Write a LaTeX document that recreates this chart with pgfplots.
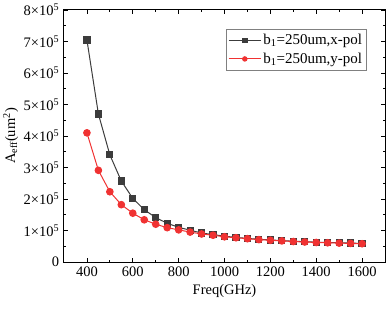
\documentclass[border=0pt]{standalone}
\usepackage{pgfplots}
\pgfplotsset{compat=1.18}
\usepackage{fontspec}
\setmainfont{Liberation Serif}
\definecolor{cblk}{RGB}{60,60,60}
\definecolor{cred}{RGB}{240,50,50}
\begin{document}
\fontsize{14bp}{16bp}\selectfont
\begin{tikzpicture}[x=1bp,y=1bp]
\begin{axis}[
  scale only axis, width=321bp, height=252bp,
  xmin=300, xmax=1700, ymin=0, ymax=800000,
  xtick={400,600,...,1600},
  xticklabels={400,600,800,1000,1200,1400,1600},
  minor x tick num=1,
  ytick={0,100000,...,800000},
  yticklabels={0,1×10\textsuperscript{5},2×10\textsuperscript{5},3×10\textsuperscript{5},4×10\textsuperscript{5},5×10\textsuperscript{5},6×10\textsuperscript{5},7×10\textsuperscript{5},8×10\textsuperscript{5}},
  minor y tick num=1,
  scaled y ticks=false,
  tick align=inside,
  major tick length=4bp, minor tick length=2.5bp,
  tick style={black, line width=0.8bp},
  axis line style={black, line width=1bp},
  tick label style={font=\fontsize{14.5bp}{16bp}\selectfont},
  label style={font=\fontsize{14.5bp}{16bp}\selectfont},
  xlabel={Freq(GHz)},
  ylabel={A\textsubscript{eff}(um\textsuperscript{2})},
  xlabel style={yshift=2bp},
  ylabel style={yshift=-4bp},
  legend style={at={(0.942,0.925)}, anchor=north east, draw=gray, line width=0.6bp, font=\fontsize{15bp}{17bp}\selectfont, inner xsep=2bp, inner ysep=3bp, row sep=2bp},
  legend cell align=left,
  legend image code/.code={\draw[#1, line width=1bp] (0bp,0bp) -- (32bp,0bp); \draw[#1, mark repeat=2, mark phase=2, mark size=2.2bp] plot coordinates {(0bp,0bp) (16bp,0bp) (32bp,0bp)};},
]
\addplot[cblk, line width=1bp, mark=square*, mark size=3.1bp, mark options={solid, fill=cblk}] coordinates {
(400,705000) (450,470000) (500,340000) (550,257000) (600,202000) (650,166000) (700,141000) (750,123000) (800,110000) (850,101000) (900,92000) (950,87000) (1000,82000) (1050,78000) (1100,75000) (1150,72000) (1200,70000) (1250,68000) (1300,66000) (1350,64500) (1400,63000) (1450,62000) (1500,61000) (1550,60000) (1600,59000)
};
\addlegendentry{b\textsubscript{1}=250um,x-pol}
\addplot[cred, line width=1bp, mark=*, mark size=3.3bp, mark options={solid, fill=cred}] coordinates {
(400,410000) (450,291000) (500,223000) (550,182000) (600,155000) (650,134000) (700,120000) (750,109000) (800,102000) (850,95000) (900,89000) (950,85000) (1000,80000) (1050,77000) (1100,74000) (1150,71000) (1200,69000) (1250,67000) (1300,65000) (1350,63500) (1400,62000) (1450,61000) (1500,60000) (1550,59000) (1600,58000)
};
\addlegendentry{b\textsubscript{1}=250um,y-pol}
\end{axis}
\pgfresetboundingbox
\path[use as bounding box] ([shift={(-64bp,-47bp)}]current axis.south west) rectangle ([shift={(4bp,10bp)}]current axis.north east);
\end{tikzpicture}
\end{document}
